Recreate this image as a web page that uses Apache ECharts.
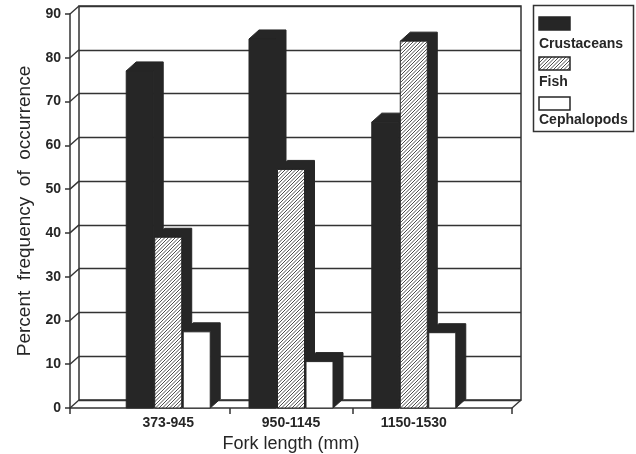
<!DOCTYPE html>
<html><head><meta charset="utf-8">
<script src="https://cdn.jsdelivr.net/npm/echarts@6/dist/echarts.min.js"></script>
<style>html,body{margin:0;padding:0;background:#fff}#c{width:636px;height:454px}</style>
</head><body><div id="c"></div>
<script>
const categories = ['373-945', '950-1145', '1150-1530'];
const seriesNames = ['Crustaceans', 'Fish', 'Cephalopods'];
const crustaceans = [77, 84.3, 65.3];
const fish = [39, 54.5, 83.8];
const cephalopods = [17.4, 10.6, 17.2];
const yTicks = [0, 10, 20, 30, 40, 50, 60, 70, 80, 90];
const xTickBounds = [0.2, 1.5, 2.5, 3.8];

const INK = '#262626';
const LINE = '#333';
const DX = 9, DY = 8;       // wall depth
const BDX = 10, BDY = 9;    // bar depth
const BAR_W = 27, BAR_STEP = 28.5;
const FONT = '"Liberation Sans", Arial, sans-serif';

function hatchCanvas() {
  const s = 3.5;
  const c = document.createElement('canvas'); c.width = 7; c.height = 7;
  const g = c.getContext('2d');
  g.fillStyle = '#fff'; g.fillRect(0, 0, 7, 7);
  g.strokeStyle = '#3a3a3a'; g.lineWidth = 0.9;
  g.beginPath();
  for (let k = -2; k <= 4; k++) {
    const o = k * s;
    g.moveTo(o - 1, 8); g.lineTo(o + 8, -1);
  }
  g.stroke();
  return c;
}
const hatch = { image: hatchCanvas(), repeat: 'repeat' };
const faces = [INK, hatch, '#fff'];

function barSeries(si, values) {
  return {
    type: 'custom', name: seriesNames[si], xAxisIndex: 0, yAxisIndex: 0, z: 3 + si,
    data: values.map((v, i) => [i + 1, v]),
    renderItem(params, api) {
      const top = api.coord([api.value(0), api.value(1)]);
      const bot = api.coord([api.value(0), 0]);
      const x0 = top[0] + (si - 1) * BAR_STEP - BAR_W / 2, x1 = x0 + BAR_W;
      const y0 = top[1], y1 = bot[1];
      return { type: 'group', children: [
        { type: 'polygon', shape: { points: [[x0, y0], [x0 + BDX, y0 - BDY], [x1 + BDX, y0 - BDY], [x1 + BDX, y1 - BDY], [x1, y1], [x1, y0]] },
          style: { fill: INK, stroke: INK, lineWidth: 1 } },
        { type: 'rect', shape: { x: x0, y: y0, width: BAR_W, height: y1 - y0 },
          style: { fill: faces[si], stroke: INK, lineWidth: 1 } }
      ]};
    }
  };
}

const connectorData = yTicks.map(v => [0.2, v]).concat([[3.8, 0]]);

const legendGraphics = [{ type: 'rect', shape: { x: 533.5, y: 5.5, width: 100, height: 126 },
  style: { fill: '#fff', stroke: LINE, lineWidth: 1.5 } }];
seriesNames.forEach((n, i) => {
  legendGraphics.push({ type: 'rect', shape: { x: 539, y: 17 + i * 40, width: 31, height: 13 },
    style: { fill: faces[i], stroke: INK, lineWidth: 1.5 } });
  legendGraphics.push({ type: 'text', x: 539, y: 44 + i * 38,
    style: { text: n, font: 'bold 14px ' + FONT, fill: INK, align: 'left', verticalAlign: 'middle' } });
});

const chart = echarts.init(document.getElementById('c'), null, { renderer: 'canvas' });
chart.setOption({
  animation: false,
  backgroundColor: '#fff',
  grid: [
    { left: 70, top: 14, width: 442, height: 394, outerBoundsMode: 'none', containLabel: false },
    { left: 79, top: 6, width: 442, height: 394, outerBoundsMode: 'none', containLabel: false,
      show: true, borderColor: LINE, borderWidth: 1.5, backgroundColor: 'transparent' }
  ],
  xAxis: [
    { gridIndex: 0, type: 'value', min: 0.2, max: 3.8,
      axisLine: { show: true, lineStyle: { color: LINE, width: 1.5 } },
      axisTick: { show: true, customValues: xTickBounds, length: 6, lineStyle: { color: LINE, width: 1.5 } },
      axisLabel: { customValues: [1, 2, 3], formatter: v => categories[Math.round(v) - 1] || '',
        fontFamily: FONT, fontWeight: 'bold', fontSize: 14, color: INK, margin: 8 },
      splitLine: { show: false },
      name: 'Fork length (mm)', nameLocation: 'middle', nameGap: 27,
      nameTextStyle: { fontFamily: FONT, fontSize: 18, color: INK } },
    { gridIndex: 1, type: 'value', min: 0.2, max: 3.8, show: false, splitLine: { show: false } }
  ],
  yAxis: [
    { gridIndex: 0, type: 'value', min: 0, max: 90, interval: 10,
      axisLine: { show: true, lineStyle: { color: LINE, width: 1.5 } },
      axisTick: { show: true, length: 5, lineStyle: { color: LINE, width: 1.5 } },
      axisLabel: { fontFamily: FONT, fontWeight: 'bold', fontSize: 14, color: INK, margin: 9 },
      splitLine: { show: false },
      name: 'Percent  frequency  of  occurrence', nameLocation: 'middle', nameRotate: 90, nameGap: 36,
      nameTextStyle: { fontFamily: FONT, fontSize: 19, color: INK } },
    { gridIndex: 1, type: 'value', min: 0, max: 90, interval: 10,
      axisLine: { show: false }, axisTick: { show: false }, axisLabel: { show: false },
      splitLine: { show: true, lineStyle: { color: LINE, width: 1.3 } } }
  ],
  series: [
    { type: 'custom', xAxisIndex: 0, yAxisIndex: 0, silent: true, z: 2,
      data: connectorData,
      renderItem(params, api) {
        const p = api.coord([api.value(0), api.value(1)]);
        return { type: 'line', shape: { x1: p[0], y1: p[1], x2: p[0] + DX, y2: p[1] - DY },
          style: { stroke: LINE, lineWidth: 1.4 } };
      } },
    barSeries(0, crustaceans),
    barSeries(1, fish),
    barSeries(2, cephalopods)
  ],
  graphic: legendGraphics
});
</script>
</body></html>
